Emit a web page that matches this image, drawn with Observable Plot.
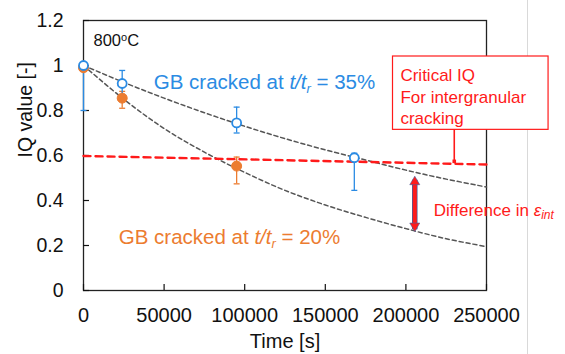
<!DOCTYPE html>
<html><head><meta charset="utf-8">
<script src="https://cdn.jsdelivr.net/npm/d3@7"></script>
<script src="https://cdn.jsdelivr.net/npm/@observablehq/plot@0.6"></script>
<style>
html,body{margin:0;padding:0;background:#fff;}
#wrap{position:relative;width:565px;height:354px;overflow:hidden;}
#edge{position:absolute;left:527px;top:0;width:1px;height:354px;background:#d9d9d9;}
</style></head><body><div id="wrap"><div id="edge"></div></div>
<script>
// ---- tick values & labels
const xTicks = [0, 50000, 100000, 150000, 200000, 250000];
const xTickLabels = ["0", "50000", "100000", "150000", "200000", "250000"];
const yTicks = [0, 0.2, 0.4, 0.6, 0.8, 1, 1.2];
const yTickLabels = ["0", "0.2", "0.4", "0.6", "0.8", "1", "1.2"];

// ---- measured IQ (GB cracked at t/tr = 35%) : open blue circles
const blueTime = [0, 24000, 95000, 168000];
const blueIQ   = [1.0, 0.92, 0.745, 0.59];
const blueLow  = [0.80, 0.87, 0.70, 0.445];
const blueHigh = [1.0, 0.978, 0.815, 0.61];

// ---- measured IQ (GB cracked at t/tr = 20%) : filled orange circles
const orangeTime = [0, 24000, 95000];
const orangeIQ   = [0.99, 0.855, 0.553];
const orangeLow  = [0.98, 0.81, 0.474];
const orangeHigh = [1.0, 0.885, 0.593];

// ---- dashed fit curves
const fitTime = [0, 25000, 50000, 75000, 100000, 125000, 150000, 175000, 200000, 225000, 250000];
const fit35   = [1.0, 0.925, 0.855, 0.79, 0.73, 0.675, 0.625, 0.58, 0.535, 0.495, 0.46];
const fit20   = [1.0, 0.85, 0.72, 0.615, 0.525, 0.445, 0.38, 0.325, 0.275, 0.23, 0.195];

// ---- critical IQ line
const criticalTime = [0, 250000];
const criticalIQ   = [0.598, 0.56];

// ---- labels
const blueLabel = "GB cracked at t/tr = 35%";
const orangeLabel = "GB cracked at t/tr = 20%";
const tempLabel = "800oC";
const calloutLabel = "Critical IQ\nFor intergranular\ncracking";
const diffLabel = "Difference in εint";
const xLabel = "Time [s]";
const yLabel = "IQ value [-]";

const BLUE = "#2b8be3", ORANGE = "#ec7c30", RED = "#ff1a1a";

const blueData = blueTime.map((t, i) => ({t, v: blueIQ[i], lo: blueLow[i], hi: blueHigh[i]}));
const orangeData = orangeTime.map((t, i) => ({t, v: orangeIQ[i], lo: orangeLow[i], hi: orangeHigh[i]}));
const fitData = fitTime.map((t, i) => ({t, a: fit35[i], b: fit20[i]}));
const critData = criticalTime.map((t, i) => ({t, v: criticalIQ[i]}));

const cap = {draw(ctx, size) { const w = Math.sqrt(size / Math.PI); ctx.moveTo(-w, 0); ctx.lineTo(w, 0); }};
const headUp = {draw(ctx, size) { const s = Math.sqrt(size / Math.PI); ctx.moveTo(0, 0); ctx.lineTo(-s, s * 1.7); ctx.lineTo(s, s * 1.7); ctx.closePath(); }};
const headDown = {draw(ctx, size) { const s = Math.sqrt(size / Math.PI); ctx.moveTo(0, 0); ctx.lineTo(-s, -s * 1.7); ctx.lineTo(s, -s * 1.7); ctx.closePath(); }};
const square = {draw(ctx, size) { const s = Math.sqrt(size / Math.PI); ctx.rect(-s, -s, 2 * s, 2 * s); }};

const plot = Plot.plot({
  width: 565, height: 354,
  marginLeft: 83, marginRight: 79, marginTop: 20, marginBottom: 64,
  style: {fontFamily: "'Liberation Sans', Arial, sans-serif", fontSize: "20px", color: "#111", background: "transparent", overflow: "visible"},
  x: {domain: [0, 250000], label: null},
  y: {domain: [0, 1.2], label: null},
  marks: [
    Plot.frame({stroke: "#222", strokeWidth: 1.3}),
    // inward tick marks
    Plot.axisY({ticks: yTicks, tickSize: 6, dx: 6, tickFormat: () => "", strokeWidth: 1.2}),
    Plot.axisX({ticks: xTicks, tickSize: 6, dy: -6, tickFormat: () => "", strokeWidth: 1.2}),
    // tick labels
    Plot.axisY({ticks: yTicks, tickSize: 0, tickPadding: 20, tickFormat: (d, i) => yTickLabels[i], fontSize: 19.5, label: null}),
    Plot.axisX({ticks: xTicks, tickSize: 0, tickPadding: 17, tickFormat: (d, i) => xTickLabels[i], fontSize: 20, label: null}),
    Plot.text([xLabel], {text: d => d, frameAnchor: "bottom", dy: 57, fontSize: 20}),
    Plot.text([yLabel], {text: d => d, frameAnchor: "left", rotate: -90, dx: -58, dy: 2, fontSize: 19.5}),
    // fit curves
    Plot.line(fitData, {x: "t", y: "a", stroke: "#555", strokeWidth: 1.5, strokeDasharray: "4,3", curve: "catmull-rom"}),
    Plot.line(fitData, {x: "t", y: "b", stroke: "#555", strokeWidth: 1.5, strokeDasharray: "4,3", curve: "catmull-rom"}),
    // critical IQ
    Plot.line(critData, {x: "t", y: "v", stroke: RED, strokeWidth: 2.4, strokeDasharray: "7,5"}),
    // callout
    Plot.rect([{}], {x1: 192000, x2: 288500, y1: 0.714, y2: 1.04, fill: "white", stroke: RED, strokeWidth: 1.2}),
    Plot.ruleX([230000], {x: d => d, y1: 0.714, y2: 0.575, stroke: RED, strokeWidth: 1.6}),
    Plot.dot([230000], {x: d => d, y: 0.574, symbol: square, r: 1.8, fill: RED}),
    Plot.text([calloutLabel], {text: d => d, x: 196600, y: 1.0, textAnchor: "start", lineAnchor: "top", lineHeight: 1.28, fill: RED, fontSize: 17}),
    // error bars
    Plot.ruleX(orangeData, {x: "t", y1: "lo", y2: "hi", stroke: ORANGE, strokeWidth: 1.3}),
    Plot.dot(orangeData, {x: "t", y: "lo", symbol: cap, r: 3, stroke: ORANGE, strokeWidth: 1.3, fill: "none"}),
    Plot.dot(orangeData, {x: "t", y: "hi", symbol: cap, r: 3, stroke: ORANGE, strokeWidth: 1.3, fill: "none"}),
    Plot.ruleX(blueData, {x: "t", y1: "lo", y2: "hi", stroke: BLUE, strokeWidth: 1.3}),
    Plot.dot(blueData, {x: "t", y: "lo", symbol: cap, r: 3, stroke: BLUE, strokeWidth: 1.3, fill: "none"}),
    Plot.dot(blueData, {x: "t", y: "hi", symbol: cap, r: 3, stroke: BLUE, strokeWidth: 1.3, fill: "none"}),
    // points
    Plot.dot(orangeData, {x: "t", y: "v", r: 5, fill: ORANGE, stroke: ORANGE, strokeWidth: 1}),
    Plot.dot(blueData, {x: "t", y: "v", r: 4.5, fill: "white", stroke: BLUE, strokeWidth: 1.8}),
    // double arrow
    Plot.ruleX([205500], {x: d => d, y1: 0.49, y2: 0.27, stroke: "#3f5f9f", strokeWidth: 5.5}),
    Plot.ruleX([205500], {x: d => d, y1: 0.49, y2: 0.27, stroke: RED, strokeWidth: 4}),
    Plot.dot([205500], {x: d => d, y: 0.508, symbol: headUp, r: 5, fill: RED, stroke: "#3f5f9f", strokeWidth: 0.6}),
    Plot.dot([205500], {x: d => d, y: 0.262, symbol: headDown, r: 5, fill: RED, stroke: "#3f5f9f", strokeWidth: 0.6}),
    // annotations
    Plot.text([blueLabel], {text: d => d, x: 43600, y: 0.923, textAnchor: "start", fill: BLUE, fontSize: 20.5}),
    Plot.text([orangeLabel], {text: d => d, x: 21900, y: 0.234, textAnchor: "start", fill: ORANGE, fontSize: 20.5}),
    Plot.text([tempLabel], {text: d => d, x: 6200, y: 1.112, textAnchor: "start", fill: "#111", fontSize: 16.5}),
    Plot.text([diffLabel], {text: d => d, x: 217300, y: 0.357, textAnchor: "start", fill: RED, fontSize: 17})
  ]
});

function rich(svg, plain, parts) {
  d3.select(svg).selectAll("text").filter(function() { return this.textContent === plain; }).each(function() {
    const t = d3.select(this);
    t.text(null);
    let shift = 0;
    parts.forEach(p => {
      const ts = t.append("tspan").text(p.text);
      if (p.italic) ts.attr("font-style", "italic");
      let target = 0;
      if (p.sub) { ts.attr("font-size", p.size); target = p.sub; }
      if (p.sup) { ts.attr("font-size", p.size); target = -p.sup; }
      if (target !== shift) { ts.attr("dy", (target - shift) + "px"); shift = target; }
    });
  });
}
rich(plot, blueLabel, [{text: "GB cracked at "}, {text: "t/t", italic: true}, {text: "r", italic: true, sub: 4, size: "13px"}, {text: " = 35%"}]);
rich(plot, orangeLabel, [{text: "GB cracked at "}, {text: "t/t", italic: true}, {text: "r", italic: true, sub: 4, size: "13px"}, {text: " = 20%"}]);
rich(plot, tempLabel, [{text: "800"}, {text: "o", sup: 5, size: "11px"}, {text: "C"}]);
rich(plot, diffLabel, [{text: "Difference in "}, {text: "ε", italic: true}, {text: "int", italic: true, sub: 3, size: "12px"}]);

document.getElementById("wrap").appendChild(plot);
plot.style.position = "absolute"; plot.style.left = "0"; plot.style.top = "0";
</script>
</body></html>
